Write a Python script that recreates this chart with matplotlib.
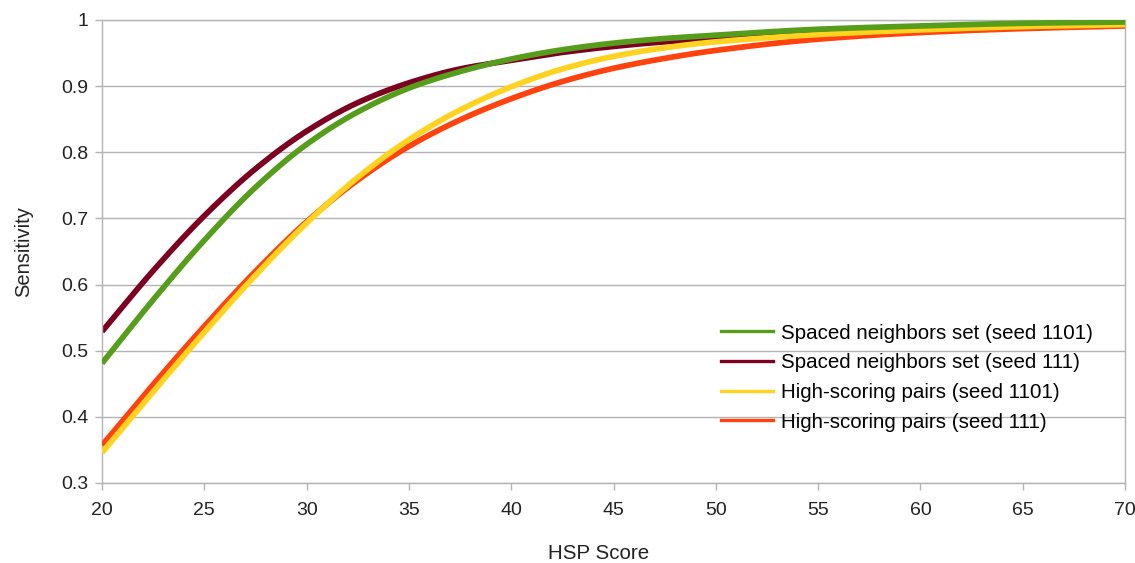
import matplotlib
matplotlib.use("Agg")
import matplotlib.pyplot as plt
import numpy as np

# HSP score sample points
hsp_score = [20, 22.5, 25, 27.5, 30, 32.5, 35, 37.5, 40, 42.5, 45, 47.5, 50, 55, 60, 65, 70]

# sensitivity per method / seed
spaced_1101 = [0.481, 0.577, 0.667, 0.747, 0.812, 0.861, 0.897, 0.922, 0.941,
               0.955, 0.965, 0.972, 0.977, 0.986, 0.991, 0.995, 0.997]
spaced_111 = [0.529, 0.621, 0.704, 0.775, 0.832, 0.875, 0.905, 0.926, 0.939,
              0.951, 0.960, 0.967, 0.972, 0.980, 0.986, 0.990, 0.993]
hsp_1101 = [0.346, 0.438, 0.528, 0.614, 0.693, 0.762, 0.819, 0.864, 0.899,
            0.926, 0.945, 0.958, 0.967, 0.978, 0.985, 0.990, 0.993]
hsp_111 = [0.357, 0.449, 0.537, 0.620, 0.695, 0.758, 0.809, 0.849, 0.881,
           0.907, 0.927, 0.942, 0.954, 0.971, 0.981, 0.987, 0.991]

labels = ["Spaced neighbors set (seed 1101)", "Spaced neighbors set (seed 111)",
          "High-scoring pairs (seed 1101)", "High-scoring pairs (seed 111)"]
series = [spaced_1101, spaced_111, hsp_1101, hsp_111]
colors = ["#579D1C", "#7E0021", "#FFD320", "#FF420E"]
zorders = [5, 2, 4, 3]


def smooth_line(xs, ys, steps=24):
    # monotone cubic (Fritsch-Carlson) through the points
    x = np.asarray(xs, float)
    y = np.asarray(ys, float)
    h = np.diff(x)
    d = np.diff(y) / h
    m = np.zeros_like(y)
    m[0], m[-1] = d[0], d[-1]
    for k in range(1, len(x) - 1):
        if d[k - 1] * d[k] > 0:
            w1 = 2 * h[k] + h[k - 1]
            w2 = h[k] + 2 * h[k - 1]
            m[k] = (w1 + w2) / (w1 / d[k - 1] + w2 / d[k])
    px, py = [], []
    for k in range(len(x) - 1):
        t = np.linspace(0, 1, steps, endpoint=False)
        h00 = 2 * t ** 3 - 3 * t ** 2 + 1
        h10 = t ** 3 - 2 * t ** 2 + t
        h01 = -2 * t ** 3 + 3 * t ** 2
        h11 = t ** 3 - t ** 2
        px.append(x[k] + t * h[k])
        py.append(h00 * y[k] + h10 * h[k] * m[k] + h01 * y[k + 1] + h11 * h[k] * m[k + 1])
    px.append([x[-1]])
    py.append([y[-1]])
    return np.concatenate(px), np.concatenate(py)


plt.rcParams["font.family"] = ["Liberation Sans", "DejaVu Sans"]

fig = plt.figure(figsize=(11.35, 5.63), dpi=100)
ax = fig.add_axes([0.0899, 0.1421, 0.9013, 0.8224])

grid_col = "#b3b3b3"
text_col = "#222222"
for ys, lab, col, z in zip(series, labels, colors, zorders):
    sx, sy = smooth_line(hsp_score, ys)
    ax.plot(sx, sy, color=col, lw=4.1, label=lab, zorder=z,
            solid_joinstyle="round", solid_capstyle="butt")

ax.set_xlim(20, 70)
ax.set_ylim(0.3, 1.0)
ax.set_xticks(range(20, 71, 5))
ax.set_yticks([0.3, 0.4, 0.5, 0.6, 0.7, 0.8, 0.9, 1.0])
ax.set_yticklabels(["0.3", "0.4", "0.5", "0.6", "0.7", "0.8", "0.9", "1"])
ax.yaxis.grid(True, color=grid_col, lw=1)
ax.set_axisbelow(True)
for sp in ax.spines.values():
    sp.set_color(grid_col)
    sp.set_linewidth(1)
ax.tick_params(axis="both", colors=grid_col, labelcolor=text_col,
               labelsize=14, length=5, width=1)
ax.tick_params(axis="x", pad=9)
ax.tick_params(axis="y", pad=5)

ax.set_xlabel("HSP Score", fontsize=14.8, color=text_col, labelpad=18)
ax.xaxis.label.set_x(0.485)
ax.set_ylabel("Sensitivity", fontsize=14.5, color=text_col, labelpad=20)

leg_handles = [plt.Line2D([], [], color=c, lw=2.4) for c in colors]
ax.legend(leg_handles, labels, loc="upper left", bbox_to_anchor=(0.5967, 0.362),
          frameon=False, fontsize=14.8, handlelength=2.55, handletextpad=0.4,
          labelspacing=0.52, borderaxespad=0)

fig.savefig("out.png", dpi=100, facecolor="white")
